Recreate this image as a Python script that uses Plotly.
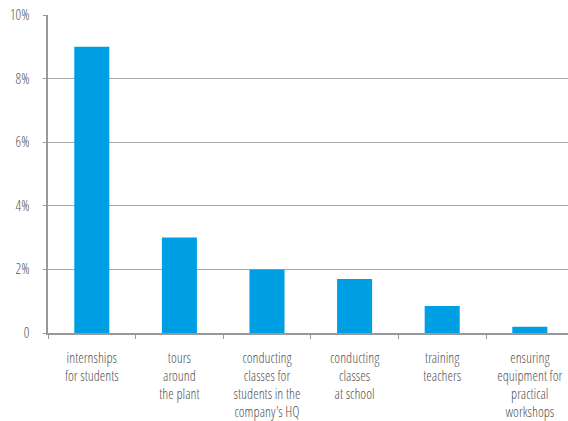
import plotly.graph_objects as go

# Share of companies by type of cooperation with schools (%)
categories = [
    "internships<br>for students",
    "tours<br>around<br>the plant",
    "conducting<br>classes for<br>students in the<br>company's HQ",
    "conducting<br>classes<br>at school",
    "training<br>teachers",
    "ensuring<br>equipment for<br>practical<br>workshops",
]
values = [9.0, 3.0, 2.0, 1.7, 0.85, 0.2]
y_ticks = [0, 2, 4, 6, 8, 10]
y_tick_labels = ["0", "2%", "4%", "6%", "8%", "10%"]

FONT = "Open Sans Condensed Light, Liberation Sans Narrow, sans-serif"
TEXT = "#555555"

fig = go.Figure(
    go.Bar(
        x=categories,
        y=values,
        marker=dict(color="#009fe3", line=dict(width=0)),
        width=0.4,
        hoverinfo="skip",
    )
)

fig.update_layout(
    width=568,
    height=421,
    margin=dict(l=48, r=0, t=15, b=88),
    paper_bgcolor="white",
    plot_bgcolor="white",
    showlegend=False,
    font=dict(family=FONT, size=14, color=TEXT),
)

fig.update_xaxes(
    type="category",
    range=[-0.5, 5.436],
    tickson="boundaries",
    ticks="outside",
    ticklen=4,
    tickcolor="#999999",
    tickwidth=1,
    showline=True,
    linecolor="#999999",
    linewidth=2,
    showgrid=False,
    tickangle=0,
    automargin=False,
    tickfont=dict(family=FONT, size=14, color=TEXT),
    ticklabelstandoff=11,
)

fig.update_yaxes(
    range=[0, 10],
    tickvals=y_ticks,
    ticktext=y_tick_labels,
    ticks="outside",
    ticklen=3,
    tickcolor="#999999",
    showline=True,
    linecolor="#999999",
    linewidth=1.5,
    showgrid=True,
    gridcolor="#aaaaaa",
    gridwidth=1.2,
    zeroline=False,
    automargin=False,
    tickfont=dict(family=FONT, size=14, color=TEXT),
    ticklabelstandoff=11,
)

fig.write_html("out.html")
